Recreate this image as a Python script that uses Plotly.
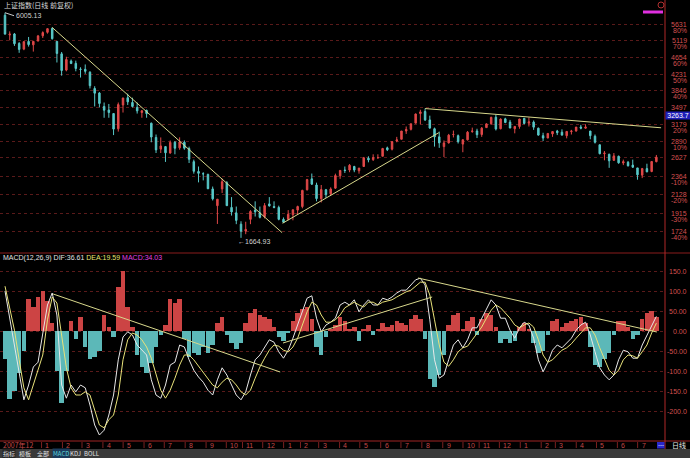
import math
from datetime import date
import plotly.graph_objects as go

# ---------------- data (weekly) ----------------
weeks = [
    "2007-11-05", "2007-11-12", "2007-11-19", "2007-11-26", "2007-12-03", "2007-12-10", "2007-12-17", "2007-12-24",
    "2007-12-31", "2008-01-07", "2008-01-14", "2008-01-21", "2008-01-28", "2008-02-04", "2008-02-11", "2008-02-18",
    "2008-02-25", "2008-03-03", "2008-03-10", "2008-03-17", "2008-03-24", "2008-03-31", "2008-04-07", "2008-04-14",
    "2008-04-21", "2008-04-28", "2008-05-05", "2008-05-12", "2008-05-19", "2008-05-26", "2008-06-02", "2008-06-09",
    "2008-06-16", "2008-06-23", "2008-06-30", "2008-07-07", "2008-07-14", "2008-07-21", "2008-07-28", "2008-08-04",
    "2008-08-11", "2008-08-18", "2008-08-25", "2008-09-01", "2008-09-08", "2008-09-15", "2008-09-22", "2008-09-29",
    "2008-10-13", "2008-10-20", "2008-10-27", "2008-11-03", "2008-11-10", "2008-11-17", "2008-11-24", "2008-12-01",
    "2008-12-08", "2008-12-15", "2008-12-22", "2008-12-29", "2009-01-05", "2009-01-12", "2009-01-19", "2009-02-02",
    "2009-02-09", "2009-02-16", "2009-02-23", "2009-03-02", "2009-03-09", "2009-03-16", "2009-03-23", "2009-03-30",
    "2009-04-06", "2009-04-13", "2009-04-20", "2009-04-27", "2009-05-04", "2009-05-11", "2009-05-18", "2009-05-25",
    "2009-06-01", "2009-06-08", "2009-06-15", "2009-06-22", "2009-06-29", "2009-07-06", "2009-07-13", "2009-07-20",
    "2009-07-27", "2009-08-03", "2009-08-10", "2009-08-17", "2009-08-24", "2009-08-31", "2009-09-07", "2009-09-14",
    "2009-09-21", "2009-09-28", "2009-10-12", "2009-10-19", "2009-10-26", "2009-11-02", "2009-11-09", "2009-11-16",
    "2009-11-23", "2009-11-30", "2009-12-07", "2009-12-14", "2009-12-21", "2009-12-28", "2010-01-04", "2010-01-11",
    "2010-01-18", "2010-01-25", "2010-02-01", "2010-02-08", "2010-02-22", "2010-03-01", "2010-03-08", "2010-03-15",
    "2010-03-22", "2010-03-29", "2010-04-05", "2010-04-12", "2010-04-19", "2010-04-26", "2010-05-03", "2010-05-10",
    "2010-05-17", "2010-05-24", "2010-05-31", "2010-06-07", "2010-06-14", "2010-06-21", "2010-06-28", "2010-07-05",
    "2010-07-12", "2010-07-19", "2010-07-26",
]

opens = [
    5920, 5290, 5320, 5040, 4880, 5100, 5000, 5110, 5265, 5370,
    5490, 5100, 4750, 4330, 4560, 4500, 4350, 4350, 4280, 3900,
    3800, 3520, 3450, 3380, 3100, 3550, 3700, 3600, 3500, 3400,
    3440, 3200, 2950, 2760, 2800, 2700, 2870, 2780, 2870, 2770,
    2570, 2430, 2400, 2390, 2200, 2000, 2200, 2280, 1980, 1920,
    1800, 1730, 1850, 1950, 1920, 1880, 2020, 1990, 1980, 1850,
    1850, 1900, 1950, 1990, 2190, 2330, 2250, 2080, 2190, 2140,
    2210, 2370, 2450, 2450, 2500, 2440, 2500, 2620, 2600, 2630,
    2650, 2780, 2760, 2890, 2920, 3060, 3090, 3200, 3380, 3420,
    3260, 3100, 2960, 2800, 2860, 3000, 2980, 2840, 2910, 3050,
    3060, 3000, 3120, 3190, 3310, 3100, 3280, 3220, 3100, 3140,
    3290, 3200, 3220, 3110, 2980, 2940, 3010, 3060, 3040, 2980,
    3050, 3060, 3130, 3110, 3060, 2970, 2830, 2690, 2680, 2590,
    2650, 2550, 2560, 2520, 2480, 2380, 2470, 2430, 2570,
]
highs = [
    6005.13, 5400, 5350, 5080, 5110, 5230, 5100, 5290, 5400, 5497,
    5522, 5110, 4800, 4672, 4600, 4570, 4400, 4472, 4300, 3950,
    3820, 3600, 3570, 3390, 3600, 3700, 3786, 3700, 3600, 3450,
    3460, 3210, 3000, 2950, 2810, 2900, 2890, 2952, 2900, 2800,
    2600, 2500, 2420, 2400, 2230, 2075, 2333, 2300, 2100, 1990,
    1830, 1825, 1950, 2050, 1990, 2030, 2100, 2050, 2000, 1870,
    1950, 1950, 2000, 2190, 2330, 2402, 2280, 2250, 2200, 2220,
    2400, 2450, 2500, 2535, 2510, 2480, 2640, 2650, 2680, 2680,
    2780, 2800, 2890, 2960, 3060, 3140, 3190, 3380, 3455, 3478,
    3340, 3120, 3050, 2900, 3010, 3068, 3000, 2920, 3060, 3120,
    3100, 3130, 3200, 3320, 3361, 3290, 3300, 3260, 3150, 3280,
    3290, 3306, 3250, 3120, 3030, 3020, 3060, 3080, 3090, 3060,
    3080, 3130, 3170, 3181, 3060, 3000, 2830, 2730, 2690, 2700,
    2660, 2600, 2580, 2600, 2480, 2480, 2540, 2580, 2670,
]
lows = [
    5300, 5130, 4970, 4778, 4850, 4950, 4812, 5100, 5200, 5330,
    5150, 4522, 4195, 4300, 4480, 4300, 4150, 4240, 3900, 3520,
    3500, 3300, 3300, 2990, 3050, 3400, 3550, 3500, 3380, 3300,
    3300, 2870, 2700, 2700, 2566, 2690, 2680, 2750, 2750, 2550,
    2400, 2284, 2310, 2200, 2060, 1802, 2150, 2000, 1890, 1800,
    1664.93, 1700, 1800, 1880, 1860, 1860, 1990, 1970, 1840, 1814,
    1840, 1840, 1900, 1970, 2180, 2250, 2050, 2037, 2090, 2120,
    2200, 2330, 2410, 2420, 2420, 2400, 2500, 2560, 2580, 2610,
    2650, 2730, 2740, 2870, 2920, 3010, 3070, 3200, 3180, 3240,
    3100, 2800, 2780, 2639, 2850, 2950, 2850, 2712, 2900, 3030,
    2940, 2960, 3120, 3170, 3070, 3090, 3200, 3110, 3020, 3100,
    3180, 3140, 3080, 2980, 2890, 2940, 2960, 2990, 2980, 2935,
    3000, 3050, 3090, 3100, 2920, 2850, 2680, 2590, 2481, 2580,
    2540, 2520, 2500, 2480, 2319, 2340, 2420, 2420, 2560,
]
closes = [
    5316, 5316, 5032, 4871, 5091, 5007, 5101, 5261, 5361, 5484,
    5180, 4761, 4320, 4599, 4497, 4370, 4348, 4300, 3962, 3796,
    3580, 3446, 3400, 3094, 3557, 3693, 3613, 3520, 3433, 3433,
    3379, 2957, 2748, 2811, 2703, 2868, 2774, 2875, 2775, 2605,
    2433, 2405, 2397, 2202, 2079, 2075, 2293, 2000, 1930, 1839,
    1729, 1747, 1935, 1930, 1871, 2001, 1997, 1980, 1850, 1820,
    1904, 1954, 1990, 2182, 2320, 2261, 2082, 2193, 2130, 2200,
    2374, 2445, 2444, 2518, 2450, 2477, 2626, 2597, 2630, 2630,
    2770, 2750, 2880, 2910, 3060, 3088, 3189, 3372, 3412, 3260,
    3112, 2960, 2860, 2860, 2989, 3000, 2880, 2911, 3040, 3060,
    2996, 3110, 3187, 3308, 3096, 3275, 3212, 3113, 3141, 3277,
    3196, 3224, 3128, 2990, 2940, 3018, 3051, 3031, 2990, 3053,
    3059, 3130, 3110, 3130, 2980, 2870, 2689, 2697, 2583, 2656,
    2553, 2570, 2510, 2490, 2384, 2470, 2425, 2572, 2637,
]

dif = [
    100, 32, -35, -110, -172, -135, -90, -78, -10, 65,
    95, 40, -135, -168, -135, -152, -135, -142, -185, -235,
    -260, -248, -210, -160, -72, -15, -2, -10, -35, -48,
    -60, -122, -160, -168, -135, -85, -78, -35, -40, -72,
    -98, -115, -128, -148, -160, -122, -92, -110, -135, -160,
    -172, -152, -110, -72, -60, -42, -22, -28, -52, -68,
    -48, -18, 15, 52, 82, 88, 32, -2, 15, 22,
    32, 65, 72, 65, 78, 48, 65, 78, 65, 65,
    82, 78, 85, 95, 102, 102, 115, 128, 132, 115,
    28, -72, -118, -110, -72, -35, -22, -42, -22, 8,
    8, 32, 58, 78, 65, 32, 32, 2, -18, 8,
    22, 15, -18, -72, -102, -78, -48, -35, -42, -30,
    -18, 2, 15, 22, -10, -52, -92, -110, -122, -110,
    -72, -48, -52, -68, -68, -35, -10, 15, 36.61,
]
dea = [
    112, 57, 2, -72, -142, -172, -135, -102, -60, 28,
    85, 70, -10, -92, -142, -160, -160, -152, -160, -198,
    -235, -242, -222, -210, -160, -72, -22, -5, -10, -22,
    -40, -68, -110, -148, -168, -148, -118, -85, -60, -60,
    -72, -88, -102, -118, -135, -142, -128, -118, -122, -135,
    -152, -160, -148, -118, -90, -68, -48, -35, -38, -48,
    -52, -40, -18, 15, 48, 72, 65, 40, 22, 22,
    28, 40, 58, 65, 72, 65, 60, 72, 72, 65,
    72, 75, 78, 85, 92, 98, 102, 112, 122, 122,
    90, 28, -35, -78, -88, -72, -52, -42, -38, -22,
    -5, 10, 32, 52, 65, 58, 45, 32, 15, 8,
    15, 20, 10, -22, -60, -78, -72, -60, -48, -42,
    -32, -18, -5, 8, 8, -10, -42, -72, -98, -110,
    -98, -72, -60, -62, -68, -52, -35, -5, 19.59,
]
macd_hist = [
    -70, -170, -150, -105, -50, 80, 60, 85, 100, 75,
    20, -100, -180, -100, 25, -20, 35, -40, -70, -65,
    -50, 40, 10, -15, 110, 150, 60, 10, -60, -90,
    -105, -80, -40, -10, 15, 80, 70, 80, -20, -65,
    -55, -60, -40, -55, -35, 20, 35, -10, -30, -45,
    -30, 20, 45, 55, 40, 35, 30, 10, -15, -25,
    -5, 25, 45, 55, 60, 30, -40, -60, -15, 5,
    15, 35, 25, 5, 10, -25, 5, 15, -10, 5,
    20, 10, 15, 25, 20, 15, 30, 40, 30, -20,
    -120, -140, -110, -60, 15, 40, 45, 5, 25, 35,
    -10, 30, 45, 40, 10, -30, -20, -30, -25, 10,
    20, 5, -30, -55, -50, -10, 25, 30, 10, 20,
    25, 30, 35, 20, -40, -85, -90, -70, -55, -10,
    25, 25, 10, -20, -10, 30, 45, 50, 34.03,
]

# price axis grid levels and their percentage labels ("30%" sits under the cursor box)
grid_prices = [5631, 5119, 4654, 4231, 3846, 3497, 3179, 2890, 2627, 2364, 2128, 1915, 1724]
grid_pcts = ["80%", "70%", "60%", "50%", "40%", "", "20%", "10%", "", "-10%", "-20%", "-30%", "-40%"]
macd_ticks = [150, 100, 50, 0, -50, -100, -150, -200]
macd_tick_text = ["150.0", "100.0", "50.00", "0.00", "-50.00", "-100.0", "-150.0", "-200.0"]

month_starts = [
    "2007-12-01", "2008-01-01", "2008-02-01", "2008-03-01", "2008-04-01", "2008-05-01", "2008-06-01",
    "2008-07-01", "2008-08-01", "2008-09-01", "2008-10-01", "2008-11-01", "2008-12-01", "2009-01-01",
    "2009-02-01", "2009-03-01", "2009-04-01", "2009-05-01", "2009-06-01", "2009-07-01", "2009-08-01",
    "2009-09-01", "2009-10-01", "2009-11-01", "2009-12-01", "2010-01-01", "2010-02-01", "2010-03-01",
    "2010-04-01", "2010-05-01", "2010-06-01", "2010-07-01",
]
month_labels = ["2007年12", "1", "2", "3", "4", "5", "6", "7", "8", "9", "10", "11", "12",
                "1", "2", "3", "4", "5", "6", "7", "8", "9", "10", "11", "12",
                "1", "2", "3", "4", "5", "6", "7"]

# hand-drawn trend lines: (week position, value) pairs
price_trends = [((10, 5522), (58.7, 1715)),
                ((58.8, 1809), (91.9, 3031)),
                ((89, 3478), (139.0, 3117))]
macd_trends = [((10.2, 92.5), (58.3, -102.5)),
               ((58.9, -30), (90.5, 85)),
               ((87.5, 132.5), (138.1, -2.5))]

cursor_price = 3263.7
last_dif, last_dea, last_macd = dif[-1], dea[-1], macd_hist[-1]

# ---------------- layout constants ----------------
W, H = 690, 458
ML, MR, MT, MB = 0, 25, 0, 17
PW, PH = W - ML - MR, H - MT - MB          # 665 x 441 plot area
SPLIT_PX = 253                              # separator between panes
X_RANGE = [-1.06, 139.83]
Y_TOP_PRICE, Y_BOT_PRICE = 6456.0, 1527.2
MACD_RANGE = [-275, 195]

def py(px):      # pixel row -> paper y
    return (PH - px) / PH

def pxx(px):     # pixel col -> paper x
    return px / PW

split = py(SPLIT_PX)

n = len(weeks)
xs = list(range(n))
wk = [date.fromisoformat(w) for w in weeks]

def week_pos(s):
    d = date.fromisoformat(s)
    i = max(k for k in range(n) if wk[k] <= d)
    return i + min((d - wk[i]).days / 7.0, 1.0)

FONT = "Liberation Sans, Noto Sans CJK SC, sans-serif"
CJK = "Noto Sans CJK SC, sans-serif"
RED_TXT = "#d45050"
GRID = "#5a1a1a"
TREND = "#d8d88c"

fig = go.Figure()

fig.add_trace(go.Candlestick(
    x=xs, open=opens, high=highs, low=lows, close=closes,
    increasing=dict(line=dict(color="#e04848", width=1), fillcolor="#e04848"),
    decreasing=dict(line=dict(color="#58c8c8", width=1), fillcolor="#58c8c8"),
    whiskerwidth=0, xaxis="x", yaxis="y", hoverinfo="skip",
))
for (a, b) in price_trends:
    fig.add_trace(go.Scatter(x=[a[0], b[0]], y=[a[1], b[1]], mode="lines",
                             line=dict(color=TREND, width=1), xaxis="x", yaxis="y", hoverinfo="skip"))

fig.add_trace(go.Bar(
    x=xs, y=macd_hist, width=0.95,
    marker=dict(color=["#cc4444" if v >= 0 else "#5cb8b8" for v in macd_hist], line=dict(width=0)),
    xaxis="x2", yaxis="y2", hoverinfo="skip",
))
fig.add_trace(go.Scatter(x=xs, y=dif, mode="lines", line=dict(color="#e8e8e8", width=1),
                         xaxis="x2", yaxis="y2", hoverinfo="skip"))
fig.add_trace(go.Scatter(x=xs, y=dea, mode="lines", line=dict(color="#e8e27a", width=1),
                         xaxis="x2", yaxis="y2", hoverinfo="skip"))
for (a, b) in macd_trends:
    fig.add_trace(go.Scatter(x=[a[0], b[0]], y=[a[1], b[1]], mode="lines",
                             line=dict(color=TREND, width=1), xaxis="x2", yaxis="y2", hoverinfo="skip"))

ann = []
# title of price pane
ann.append(dict(xref="paper", yref="paper", x=pxx(2), y=py(5), xanchor="left", yanchor="middle",
                text="上证指数(日线 前复权)", showarrow=False, font=dict(family=CJK, size=7, color="#d8d8d8")))
# high / low marks
imax = max(range(n), key=lambda k: highs[k])
imin = min(range(n), key=lambda k: lows[k])
ann.append(dict(xref="x", yref="y", x=imax, y=math.log10(highs[imax]), text=f"{highs[imax]:.2f}",
                showarrow=True, ax=9, ay=3, xanchor="left", yanchor="middle", arrowhead=0, arrowwidth=1,
                arrowcolor="#c8c8c8", standoff=0, font=dict(family=FONT, size=7, color="#d0d0d0")))
ann.append(dict(xref="x", yref="y", x=imin, y=math.log10(lows[imin]), text=f"←{lows[imin]:.2f}",
                showarrow=False, xanchor="left", yanchor="middle", xshift=-5, yshift=-4,
                font=dict(family=FONT, size=7, color="#d0d0d0")))
# price axis labels
for p, pct in zip(grid_prices, grid_pcts):
    ann.append(dict(xref="paper", yref="y", x=pxx(689), y=math.log10(p), text=str(p), xanchor="right",
                    yanchor="middle", showarrow=False, font=dict(family=FONT, size=7, color=RED_TXT)))
    if pct:
        ann.append(dict(xref="paper", yref="y", x=pxx(689), y=math.log10(p), yshift=-6, text=pct,
                        xanchor="right", yanchor="middle", showarrow=False,
                        font=dict(family=FONT, size=7, color=RED_TXT)))
# cursor price box
ann.append(dict(xref="paper", yref="y", x=pxx(677.5), y=math.log10(cursor_price), yshift=4,
                text=f"{cursor_price}", xanchor="center", yanchor="middle", showarrow=False,
                bgcolor="#1e1eb8", width=24, height=7, borderpad=0,
                font=dict(family=FONT, size=7, color="#ffffff")))
# MACD title
ann.append(dict(xref="paper", yref="paper", x=pxx(1), y=py(258), xanchor="left", yanchor="middle",
                showarrow=False,
                text=(f"MACD(12,26,9) DIF:{last_dif:.2f} "
                      f"<span style='color:#e8e070'>DEA:{last_dea:.2f}</span> "
                      f"<span style='color:#e040e0'>MACD:{last_macd:.2f}</span>"),
                font=dict(family=FONT, size=7, color="#e0e0e0")))
# MACD axis labels
for v, t in zip(macd_ticks, macd_tick_text):
    ann.append(dict(xref="paper", yref="y2", x=pxx(689), y=v, text=t, xanchor="right", yanchor="middle",
                    showarrow=False, font=dict(family=FONT, size=7, color=RED_TXT)))

shapes = []
# month labels and tick marks
for k, (ms, lab) in enumerate(zip(month_starts, month_labels)):
    pos = week_pos(ms)
    if k == 0:
        ann.append(dict(xref="paper", yref="paper", x=pxx(1), y=py(445), text=lab, xanchor="left",
                        yanchor="middle", showarrow=False, font=dict(family=CJK, size=7, color="#c04848")))
    else:
        shapes.append(dict(type="line", xref="x", yref="paper", x0=pos - 0.4, x1=pos - 0.4,
                           y0=py(442), y1=py(448), line=dict(color="#7a2020", width=1)))
        ann.append(dict(xref="x", yref="paper", x=pos, y=py(445), text=lab, xanchor="left",
                        yanchor="middle", showarrow=False, font=dict(family=FONT, size=7, color="#c04848")))

# pane separator, axis lines
shapes.append(dict(type="line", xref="paper", yref="paper", x0=0, x1=pxx(690), y0=split, y1=split,
                   line=dict(color="#8a1c1c", width=1)))
shapes.append(dict(type="line", xref="paper", yref="paper", x0=0, x1=pxx(690), y0=py(441), y1=py(441),
                   line=dict(color="#a02424", width=1)))
shapes.append(dict(type="line", xref="paper", yref="paper", x0=1, x1=1, y0=py(449), y1=1,
                   line=dict(color="#b02828", width=1)))
# bottom tab bar
shapes.append(dict(type="rect", xref="paper", yref="paper", x0=0, x1=pxx(690), y0=py(458), y1=py(449),
                   fillcolor="#3a3a3a", line=dict(width=0), layer="above"))
tabs = [("指标", 8.5, "#e0e0e0", "#262626"), ("模板", 25, "#e0e0e0", None), ("全部", 42.5, "#e0e0e0", None),
        ("MACD", 60.5, "#60d8d8", "#1c3c5c"), ("KDJ", 75, "#e0e0e0", None), ("BOLL", 92, "#e0e0e0", None)]
for t, cx, col, bg in tabs:
    d = dict(xref="paper", yref="paper", x=pxx(cx), y=py(453.5), text=t, xanchor="center", yanchor="middle",
             showarrow=False, font=dict(family=CJK, size=6, color=col), borderpad=0)
    if bg:
        d["bgcolor"] = bg
    ann.append(d)
# bottom-right period box
shapes.append(dict(type="rect", xref="paper", yref="paper", x0=pxx(657), x1=pxx(664.5), y0=py(448.5),
                   y1=py(442), fillcolor="#2828cc", line=dict(width=0)))
ann.append(dict(xref="paper", yref="paper", x=pxx(660.8), y=py(445), text="---", xanchor="center",
                yanchor="middle", showarrow=False, font=dict(family=FONT, size=6, color="#ffffff")))
ann.append(dict(xref="paper", yref="paper", x=pxx(679), y=py(445), text="日线", xanchor="center",
                yanchor="middle", showarrow=False, font=dict(family=CJK, size=7, color="#e8e8e8")))
# top-right markers
shapes.append(dict(type="line", xref="paper", yref="paper", x0=pxx(643), x1=pxx(663), y0=py(12), y1=py(12),
                   line=dict(color="#e030e0", width=3)))
shapes.append(dict(type="circle", xref="paper", yref="paper", x0=pxx(658), x1=pxx(664), y0=py(8), y1=py(2),
                   line=dict(color="#b03030", width=1)))

axis_common = dict(showgrid=False, zeroline=False, showticklabels=False, showline=False, ticks="")
fig.update_layout(
    width=W, height=H,
    margin=dict(l=ML, r=MR, t=MT, b=MB, pad=0),
    paper_bgcolor="#000000", plot_bgcolor="#000000",
    showlegend=False, hovermode=False, bargap=0, boxgap=0.55,
    xaxis=dict(domain=[0, 1], range=X_RANGE, anchor="y", rangeslider=dict(visible=False), **axis_common),
    xaxis2=dict(domain=[0, 1], range=X_RANGE, anchor="y2", matches="x", **axis_common),
    yaxis=dict(domain=[split, 1], type="log",
               range=[math.log10(Y_BOT_PRICE), math.log10(Y_TOP_PRICE)],
               tickvals=grid_prices, showticklabels=False, ticks="", showgrid=True, gridcolor=GRID,
               griddash="dot", gridwidth=1, zeroline=False, showline=False),
    yaxis2=dict(domain=[0, split], range=MACD_RANGE, tickvals=macd_ticks, showticklabels=False, ticks="",
                showgrid=True, gridcolor=GRID, griddash="dot", gridwidth=1, zeroline=False, showline=False),
    annotations=ann, shapes=shapes,
)

fig.write_html("out.html", config={"displayModeBar": False, "staticPlot": True},
               post_script="document.body.style.margin='0';document.body.style.background='#000';")
